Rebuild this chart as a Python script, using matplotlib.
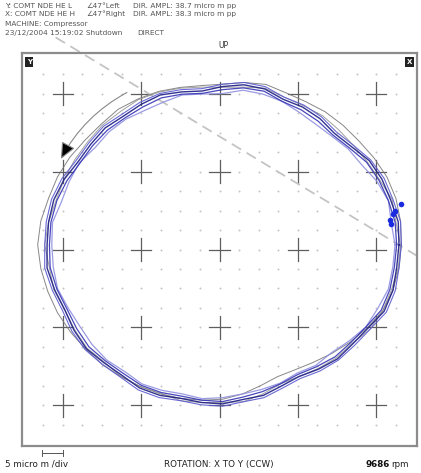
import numpy as np
import matplotlib
matplotlib.use("Agg")
import matplotlib.pyplot as plt
from matplotlib.patches import FancyArrowPatch

# mean orbit, radius (div, 5 micro m / div) every 7.5 deg CCW from +X
orbit_angle = np.arange(48) * 7.5
orbit_radius = [2.25, 2.24, 2.23, 2.19, 2.13, 2.07, 2.04, 2.03, 2.02, 2.03, 2.07, 2.05,
                2.02, 2.01, 2.03, 2.05, 2.07, 2.09, 2.10, 2.12, 2.15, 2.18, 2.21, 2.24,
                2.25, 2.24, 2.22, 2.20, 2.18, 2.16, 2.14, 2.12, 2.10, 2.08, 2.06, 2.04,
                2.03, 2.01, 1.98, 1.96, 1.97, 2.00, 2.04, 2.09, 2.15, 2.21, 2.24, 2.25]
orbit_center = (0.04, 0.06)

# radial deviation of each revolution from the mean orbit (div)
rev_dark = [0.00, 0.02, -0.01, 0.01, 0.03, 0.00, -0.02, 0.01, 0.02, -0.01, 0.00, 0.02,
            0.01, -0.02, 0.00, 0.03, 0.01, -0.01, 0.02, 0.00, -0.02, 0.01, 0.02, 0.00,
            -0.01, 0.02, 0.00, -0.02, 0.01, 0.03, 0.00, -0.01, 0.02, 0.01, -0.02, 0.00,
            0.01, -0.01, 0.02, 0.00, -0.02, 0.01, 0.03, 0.00, -0.01, 0.02, 0.01, -0.01]
rev_blue = [-0.03, -0.02, -0.04, -0.03, -0.01, -0.03, -0.05, -0.03, -0.02, -0.04, -0.03, -0.02,
            -0.03, -0.05, -0.03, -0.01, -0.03, -0.04, -0.02, -0.03, -0.05, -0.03, -0.02, -0.03,
            -0.04, -0.02, -0.03, -0.05, -0.03, -0.01, -0.03, -0.04, -0.02, -0.03, -0.05, -0.03,
            -0.02, -0.04, -0.03, -0.03, -0.05, -0.03, -0.01, -0.03, -0.04, -0.02, -0.03, -0.04]
rev_mid = [0.03, 0.05, 0.02, 0.04, 0.05, 0.03, 0.01, 0.04, 0.05, 0.02, 0.03, 0.05,
           0.04, 0.01, 0.03, 0.05, 0.04, 0.02, 0.05, 0.03, 0.01, 0.04, 0.05, 0.03,
           0.02, 0.05, 0.03, 0.01, 0.04, 0.05, 0.03, 0.02, 0.05, 0.04, 0.01, 0.03,
           0.04, 0.02, 0.05, 0.03, 0.01, 0.04, 0.05, 0.03, 0.02, 0.05, 0.04, 0.02]
rev_light = [-0.05, -0.07, -0.04, -0.06, -0.08, -0.05, -0.07, -0.08, -0.06, -0.04, -0.07, -0.05,
             -0.08, -0.06, -0.04, -0.07, -0.08, -0.06, -0.05, -0.07, -0.04, -0.06, -0.08, -0.05,
             -0.07, -0.06, -0.04, -0.07, -0.08, -0.06, -0.05, -0.07, -0.04, -0.06, -0.08, -0.05,
             -0.07, -0.08, -0.06, -0.04, -0.07, -0.05, -0.08, -0.06, -0.04, -0.07, -0.05, -0.06]
rev_gray1 = [0.03, 0.05, 0.06, 0.08, 0.10, 0.12, 0.13, 0.12, 0.10, 0.08, 0.06, 0.05,
             0.04, 0.05, 0.06, 0.08, 0.09, 0.10, 0.09, 0.09, 0.10, 0.10, 0.09, 0.10,
             0.11, 0.10, 0.09, 0.08, 0.06, 0.04, 0.03, 0.01, 0.00, -0.01, -0.02, -0.03,
             -0.05, -0.08, -0.11, -0.13, -0.12, -0.10, -0.07, -0.04, -0.02, 0.00, 0.01, 0.02]
rev_gray2 = [0.02, -0.01, 0.01, -0.02, 0.00, 0.03, 0.05, 0.06, 0.04, 0.02, 0.01, -0.01,
             0.00, 0.03, 0.05, 0.07, 0.08, 0.06, 0.07, 0.05, 0.03, 0.01, -0.01, 0.00,
             0.02, -0.01, 0.01, -0.02, 0.00, 0.02, -0.01, 0.01, 0.00, -0.02, 0.01, 0.00,
             -0.01, 0.02, 0.00, -0.03, -0.02, 0.00, 0.01, -0.01, 0.02, 0.00, -0.01, 0.01]

# keyphasor marks
key_x = [2.21, 2.17, 2.24, 2.31, 2.19]
key_y = [0.45, 0.38, 0.49, 0.58, 0.33]

header = [
    ("Y: COMT NDE HE L", "\u222047°Left", "DIR. AMPL: 38.7 micro m pp"),
    ("X: COMT NDE HE H", "\u222047°Right", "DIR. AMPL: 38.3 micro m pp"),
]
machine = "MACHINE: Compressor"
stamp = ("23/12/2004 15:19:02 Shutdown", "DIRECT")
speed = "9686"

lim = 2.52
hdr_color = "#555555"

fig = plt.figure(figsize=(4.21, 4.73), dpi=100)
ax = fig.add_axes([22 / 421, 1 - 446 / 473, 395 / 421, 393 / 473])
ax.set_xlim(-lim, lim)
ax.set_ylim(-lim, lim)
ax.set_xticks([])
ax.set_yticks([])
for s in ax.spines.values():
    s.set_color("#8c8c8c")
    s.set_linewidth(1.6)

# dot lattice and crosses
q = np.arange(-9, 10) / 4
gx, gy = np.meshgrid(q, q)
keep = ~((np.abs(gx - np.round(gx)) < 1e-6) & (np.abs(gy - np.round(gy)) < 1e-6))
ax.scatter(gx[keep], gy[keep], s=2, color="#c4c4c4", lw=0, zorder=1)
for cx in range(-2, 3):
    for cy in range(-2, 3):
        ax.plot([cx - 0.13, cx + 0.13], [cy, cy], color="#5e5e5e", lw=0.9, zorder=2)
        ax.plot([cx, cx], [cy - 0.15, cy + 0.15], color="#5e5e5e", lw=0.9, zorder=2)

# probe direction line
ax.plot([-2.09, 2.60], [2.72, -0.13], color="#c4c4c4", lw=1.3, ls=(0, (6, 3.5)),
        clip_on=False, zorder=2)

th = np.deg2rad(orbit_angle)
base_r = np.array(orbit_radius)

def draw_rev(dev, color, lw, alpha):
    r = base_r + np.array(dev)
    x = orbit_center[0] + r * np.cos(th)
    y = orbit_center[1] + r * np.sin(th)
    ax.plot(np.append(x, x[0]), np.append(y, y[0]), color=color, lw=lw, alpha=alpha,
            zorder=3, solid_joinstyle="round")

draw_rev(rev_gray1, "#7a7a7a", 0.7, 0.9)
draw_rev(rev_gray2, "#8a8a8a", 0.7, 0.8)
draw_rev(rev_light, "#9090e0", 0.9, 0.9)
draw_rev(rev_mid, "#5a5ad0", 0.8, 0.9)
draw_rev(rev_blue, "#3434b4", 0.9, 0.9)
draw_rev(rev_dark, "#1c1c86", 1.0, 0.9)

ax.scatter(key_x, key_y, s=16, color="#1a2ae0", zorder=4, lw=0)

# rotation arrow
arr = FancyArrowPatch((-1.15, 2.03), (-2.04, 1.13), connectionstyle="arc3,rad=0.16",
                      arrowstyle="-|>,head_length=10,head_width=4.5",
                      edgecolor="#888888", facecolor="black", lw=0.8, zorder=5)
ax.add_patch(arr)

# corner labels
ax.text(0.012, 0.985, "Y", transform=ax.transAxes, ha="left", va="top", fontsize=5,
        color="white", fontweight="bold",
        bbox=dict(boxstyle="square,pad=0.25", fc="#222222", ec="none"))
ax.text(0.988, 0.985, "X", transform=ax.transAxes, ha="right", va="top", fontsize=5,
        color="white", fontweight="bold",
        bbox=dict(boxstyle="square,pad=0.25", fc="#222222", ec="none"))

fig.text(223 / 421, 1 - 45 / 473, "UP", ha="center", va="center", fontsize=5.5, color="#333333")

# header
for i, (a, b, c) in enumerate(header):
    yy = 1 - (6 + 8 * i) / 473
    fig.text(5 / 421, yy, a, fontsize=5.3, va="center", color=hdr_color)
    fig.text(86 / 421, yy, b, fontsize=5.3, va="center", color=hdr_color)
    fig.text(133 / 421, yy, c, fontsize=5.3, va="center", color=hdr_color)
fig.text(5 / 421, 1 - 24 / 473, machine, fontsize=5.3, va="center", color=hdr_color)
fig.text(5 / 421, 1 - 33 / 473, stamp[0], fontsize=5.3, va="center", color=hdr_color)
fig.text(137 / 421, 1 - 33 / 473, stamp[1], fontsize=5.3, va="center", color=hdr_color)

# footer
fig.add_artist(plt.Line2D([42 / 421, 63 / 421], [1 - 453 / 473, 1 - 453 / 473],
                          color="#555555", lw=0.7))
for xb in (42, 63):
    fig.add_artist(plt.Line2D([xb / 421, xb / 421], [1 - 450 / 473, 1 - 456 / 473],
                              color="#555555", lw=0.7))
fig.text(5 / 421, 1 - 464 / 473, "5 micro m /div", fontsize=6.3, va="center", color="#222222")
fig.text(219 / 421, 1 - 464 / 473, "ROTATION: X TO Y (CCW)", fontsize=6.3, ha="center",
         va="center", color="#222222")
fig.text(365 / 421, 1 - 464 / 473, speed, fontsize=6.3, va="center", color="#111111",
         fontweight="bold")
fig.text(391 / 421, 1 - 464 / 473, "rpm", fontsize=6.3, va="center", color="#222222")

fig.savefig("out.png", dpi=100)
